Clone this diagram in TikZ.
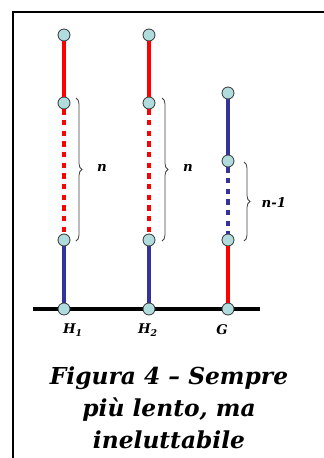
\documentclass[tikz,border=0pt]{standalone}
\usepackage{fontspec}
\setmainfont{DejaVu Serif}
\usetikzlibrary{decorations.pathreplacing}
\definecolor{knob}{RGB}{176,220,222}
\definecolor{darkblue}{RGB}{51,51,153}
\begin{document}
\begin{tikzpicture}[x=0.75pt, y=0.75pt,
  knobnode/.style={circle, draw=black!80, line width=0.6pt, fill=knob, inner sep=0pt, minimum size=9pt},
  redbar/.style={draw=red, line width=3pt},
  bluebar/.style={draw=darkblue, line width=3pt},
  redgap/.style={draw=red, line width=3pt, dash pattern=on 4pt off 4pt},
  bluegap/.style={draw=darkblue, line width=3pt, dash pattern=on 4pt off 4pt},
  bracebar/.style={draw=black!75, line width=0.6pt, decorate, decoration={brace, amplitude=4.5pt}},
  smalllabel/.style={font=\fontsize{10}{12}\selectfont\bfseries\itshape},
  caption/.style={font=\fontsize{17.5}{24}\selectfont\bfseries\itshape, align=center}]
\useasboundingbox (0,0) rectangle (324,-458);
% frame
\draw[line width=2pt] (324,-12) -- (13,-12) -- (13,-458);
% ground
\coordinate (gl) at (33,-309);
\coordinate (gr) at (260,-309);
\draw[line width=3.2pt] (gl) -- (gr);
% column H1
\node[knobnode] (a1) at (64,-35) {};
\node[knobnode] (a2) at (64,-103) {};
\node[knobnode] (a3) at (64,-240) {};
\node[knobnode] (a4) at (64,-309) {};
\draw[redbar] (a1) -- (a2);
\draw[redgap] (a2) -- (a3);
\draw[bluebar] (a3) -- (a4);
% column H2
\node[knobnode] (b1) at (149,-35) {};
\node[knobnode] (b2) at (149,-103) {};
\node[knobnode] (b3) at (149,-240) {};
\node[knobnode] (b4) at (149,-309) {};
\draw[redbar] (b1) -- (b2);
\draw[redgap] (b2) -- (b3);
\draw[bluebar] (b3) -- (b4);
% column G
\node[knobnode] (c1) at (228,-93) {};
\node[knobnode] (c2) at (228,-161) {};
\node[knobnode] (c3) at (228,-240) {};
\node[knobnode] (c4) at (228,-309) {};
\draw[bluebar] (c1) -- (c2);
\draw[bluegap] (c2) -- (c3);
\draw[redbar] (c3) -- (c4);
% braces
\draw[bracebar] (76,-98) -- (76,-241);
\draw[bracebar] (162,-98) -- (162,-241);
\draw[bracebar] (244,-162) -- (244,-241);
\node[smalllabel] (na) at (102,-168) {n};
\node[smalllabel] (nb) at (188,-168) {n};
\node[smalllabel] (nc) at (274,-203) {n-1};
% names
\node[smalllabel] (ha) at (73,-330) {H\textsubscript{1}};
\node[smalllabel] (hb) at (148,-330) {H\textsubscript{2}};
\node[smalllabel] (hc) at (222,-330) {G};
\node[caption] (cap) at (169,-408) {Figura 4 – Sempre\\più lento, ma\\ineluttabile};
\end{tikzpicture}
\end{document}
